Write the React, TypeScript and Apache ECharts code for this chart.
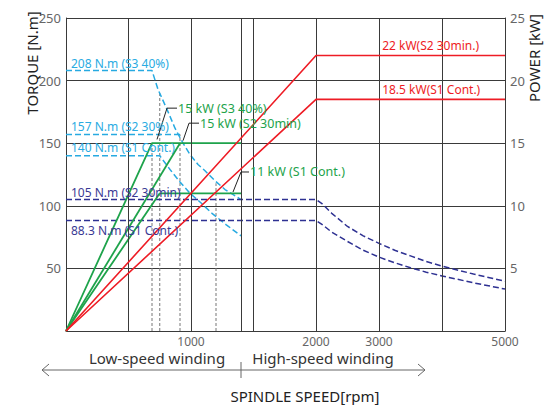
import React, { useEffect, useRef } from "react";
import * as echarts from "echarts";

// ---- data (rpm, torque N.m) / (rpm, power kW) ----
const cyan208 = [[0, 208], [688, 208], [736, 193], [808, 177], [872, 162], [936, 150], [992, 141], [1056, 133], [1112, 128], [1192, 120], [1272, 113], [1400, 105]];
const cyan157 = [[0, 157], [912, 157]];
const cyan140 = [[0, 140], [750, 140], [832, 129], [912, 119], [992, 110], [1072, 103], [1168, 94], [1280, 85], [1400, 76]];
const navy105 = [[0, 105], [2000, 105], [2100, 101.5], [2250, 94], [2500, 83.5], [2750, 76], [3000, 70], [3250, 64.5], [3500, 60], [3750, 55.5], [4000, 51.8], [4500, 45.5], [5000, 39.7]];
const navy88 = [[0, 88.3], [2000, 88.3], [2100, 85], [2250, 79], [2500, 71.5], [2750, 64.5], [3000, 59], [3250, 54.5], [3500, 50.5], [3750, 47], [4000, 44], [4500, 38.5], [5000, 33.5]];
const green15a = [[0, 0], [688, 15], [1400, 15]];
const green15b = [[0, 0], [912, 15]];
const green11 = [[0, 0], [750, 11], [1400, 11]];
const red22 = [[0, 0], [2000, 22], [5000, 22]];
const red185 = [[0, 0], [2000, 18.5], [5000, 18.5]];
const dottedTops = [[688, 150], [750, 191], [912, 157], [1200, 118]];
const gridRpm = [500, 1000, 1400, 1500, 2000, 3000, 4000];
const xLabelRpm = [1000, 2000, 3000, 5000];
const leader1 = [[728, 153], [808, 178], [888, 178]];
const leader2 = [[936, 152], [984, 166], [1064, 166]];
const leader3 = [[1336, 111], [1400, 127], [1464, 127]];
const torqueLabels = [
  { text: "208 N.m (S3 40%)", t: 208, dy: -7, color: "#29abe2" },
  { text: "157 N.m (S2 30%)", t: 157, dy: -8, color: "#29abe2" },
  { text: "140 N.m (S1 Cont.)", t: 140, dy: -8, color: "#29abe2" },
  { text: "105 N.m (S2 30min)", t: 105, dy: -7, color: "#3a3a94" },
  { text: "88.3 N.m (S1 Cont.)", t: 88.3, dy: 10, color: "#3a3a94" },
];
const powerLabels = [
  { text: "22 kW(S2 30min.)", p: 22, rpm: 3050, dy: -10.5 },
  { text: "18.5 kW(S1 Cont.)", p: 18.5, rpm: 3050, dy: -10 },
];

// piecewise speed scale: 0-2000 rpm wide, 2000-5000 compressed
const HI = 0.504;
const toU = (rpm: number) => (rpm <= 2000 ? rpm : 2000 + (rpm - 2000) * HI);
const fromU = (u: number) => (u <= 2000 ? u : 2000 + (u - 2000) / HI);
const conv = (arr: number[][]) => arr.map(([r, v]) => [toU(r), v]);

const FONT = '"Noto Sans", "DejaVu Sans", sans-serif';
const CYAN = "#27aae1";
const NAVY = "#2e3192";
const GREEN = "#1ea34b";
const RED = "#ee1c25";
const GRID = "#3a3a3a";
const LBL = 12;

export default function App() {
  const ref = useRef<HTMLDivElement>(null);
  useEffect(() => {
    const chart = echarts.init(ref.current!, null, { renderer: "svg" });
    const line = (name: string, data: number[][], color: string, width: number, dashed: boolean, yAxisIndex = 0, z = 3) => ({
      type: "line",
      name,
      data: conv(data),
      yAxisIndex,
      showSymbol: false,
      symbol: "none",
      silent: true,
      z,
      lineStyle: { color, width, type: dashed ? [6, 3] : "solid" },
    });
    const leader = (data: number[][], text: string) => ({
      type: "line",
      data: conv(data),
      yAxisIndex: 0,
      symbol: "none",
      silent: true,
      z: 6,
      lineStyle: { color: "#222", width: 1 },
      endLabel: {
        show: true,
        formatter: text,
        color: GREEN,
        fontSize: LBL + 0.5,
        fontFamily: FONT,
        distance: 1,
      },
    });
    const dottedSeries = dottedTops.map(([r, t]) => ({
      type: "line",
      data: conv([[r, 0], [r, t]]),
      yAxisIndex: 0,
      symbol: "none",
      silent: true,
      z: 2,
      lineStyle: { color: "#777", width: 1, type: [3, 2] },
    }));
    const option: any = {
      animation: false,
      backgroundColor: "#fff",
      grid: { left: 66, right: 41, top: 18, bottom: 74, containLabel: false },
      xAxis: {
        type: "value",
        min: 0,
        max: toU(5000),
        axisLine: { show: true, lineStyle: { color: GRID, width: 1 } },
        axisTick: { show: false },
        splitLine: { show: false },
        axisLabel: {
          customValues: xLabelRpm.map(toU),
          formatter: (v: number) => String(Math.round(fromU(v) / 100) * 100),
          color: "#666",
          fontSize: 12,
          fontFamily: FONT,
          margin: 4,
        },
      },
      yAxis: [
        {
          type: "value",
          min: 0,
          max: 250,
          interval: 50,
          axisLine: { show: true, lineStyle: { color: GRID, width: 1 } },
          axisTick: { show: false },
          splitLine: { show: true, lineStyle: { color: GRID, width: 1 } },
          axisLabel: {
            formatter: (v: number) => (v === 0 ? "" : String(v)),
            color: "#666",
            fontSize: 13,
            fontFamily: FONT,
            margin: 5,
          },
        },
        {
          type: "value",
          min: 0,
          max: 25,
          interval: 5,
          position: "right",
          axisLine: { show: true, lineStyle: { color: GRID, width: 1 } },
          axisTick: { show: false },
          splitLine: { show: false },
          axisLabel: {
            formatter: (v: number) => (v === 0 ? "" : String(v)),
            color: "#666",
            fontSize: 13,
            fontFamily: FONT,
            margin: 5,
          },
        },
      ],
      series: [
        {
          type: "line",
          data: [],
          silent: true,
          z: 1,
          markLine: {
            silent: true,
            symbol: "none",
            label: { show: false },
            lineStyle: { color: GRID, width: 1, type: "solid" },
            data: gridRpm.map((r) => ({ xAxis: toU(r) })),
          },
        },
        ...dottedSeries,
        line("208", cyan208, CYAN, 1.5, true),
        line("157", cyan157, CYAN, 1.5, true),
        line("140", cyan140, CYAN, 1.5, true),
        line("105", navy105, NAVY, 1.5, true),
        line("88.3", navy88, NAVY, 1.5, true),
        line("g15a", green15a, GREEN, 1.8, false, 1, 4),
        line("g15b", green15b, GREEN, 1.8, false, 1, 4),
        line("g11", green11, GREEN, 1.8, false, 1, 4),
        line("r22", red22, RED, 1.6, false, 1, 5),
        line("r185", red185, RED, 1.6, false, 1, 5),
        leader(leader1, "15 kW (S3 40%)"),
        leader(leader2, "15 kW (S2 30min)"),
        leader(leader3, "11 kW (S1 Cont.)"),
      ],
    };
    chart.setOption(option);

    const px = (u: number, v: number, yi = 0) =>
      chart.convertToPixel({ xAxisIndex: 0, yAxisIndex: yi } as any, [u, v]) as number[];
    const x0 = px(0, 0)[0];
    const graphic: any[] = [];
    torqueLabels.forEach((l) => {
      const p = px(0, l.t);
      graphic.push({
        type: "text",
        z: 10,
        style: { text: l.text, x: x0 + 5, y: p[1] + l.dy, fill: l.color, fontSize: LBL, fontFamily: FONT, align: "left", verticalAlign: "middle" },
      });
    });
    powerLabels.forEach((l) => {
      const p = px(toU(l.rpm), l.p, 1);
      graphic.push({
        type: "text",
        z: 10,
        style: { text: l.text, x: p[0], y: p[1] + l.dy, fill: RED, fontSize: LBL, fontFamily: FONT, align: "left", verticalAlign: "middle" },
      });
    });
    // axis names
    graphic.push({
      type: "text",
      x: 32,
      y: 63,
      rotation: Math.PI / 2,
      style: { text: "TORQUE [N.m]", x: 0, y: 0, fill: "#222", fontSize: 15, fontFamily: "Noto Sans, sans-serif", align: "center", verticalAlign: "middle" },
    });
    graphic.push({
      type: "text",
      x: 534,
      y: 58,
      rotation: Math.PI / 2,
      style: { text: "POWER [kW]", x: 0, y: 0, fill: "#222", fontSize: 15, fontFamily: "Noto Sans, sans-serif", align: "center", verticalAlign: "middle" },
    });
    // winding annotations
    const xSplit = px(toU(1400), 0)[0];
    const ay = 370;
    graphic.push(
      { type: "text", style: { text: "Low-speed winding", x: 157, y: 358, fill: "#333", fontSize: 15, fontFamily: "Noto Sans, sans-serif", align: "center", verticalAlign: "middle" } },
      { type: "text", style: { text: "High-speed winding", x: 323, y: 358, fill: "#333", fontSize: 15, fontFamily: "Noto Sans, sans-serif", align: "center", verticalAlign: "middle" } },
      { type: "line", shape: { x1: 42, y1: ay, x2: 425, y2: ay }, style: { stroke: "#666", lineWidth: 1 } },
      { type: "polyline", shape: { points: [[49, ay - 6], [42, ay], [49, ay + 6]] }, style: { stroke: "#666", lineWidth: 1, fill: "none" } },
      { type: "polyline", shape: { points: [[418, ay - 6], [425, ay], [418, ay + 6]] }, style: { stroke: "#666", lineWidth: 1, fill: "none" } },
      { type: "line", shape: { x1: xSplit, y1: 362, x2: xSplit, y2: 378 }, style: { stroke: "#666", lineWidth: 1 } },
      { type: "text", style: { text: "SPINDLE SPEED[rpm]", x: 305, y: 396, fill: "#222", fontSize: 15, fontFamily: "Noto Sans, sans-serif", align: "center", verticalAlign: "middle" } }
    );
    chart.setOption({ graphic });
    return () => chart.dispose();
  }, []);
  return <div ref={ref} style={{ width: 546, height: 405, position: "absolute", left: 0, top: 0 }} />;
}
